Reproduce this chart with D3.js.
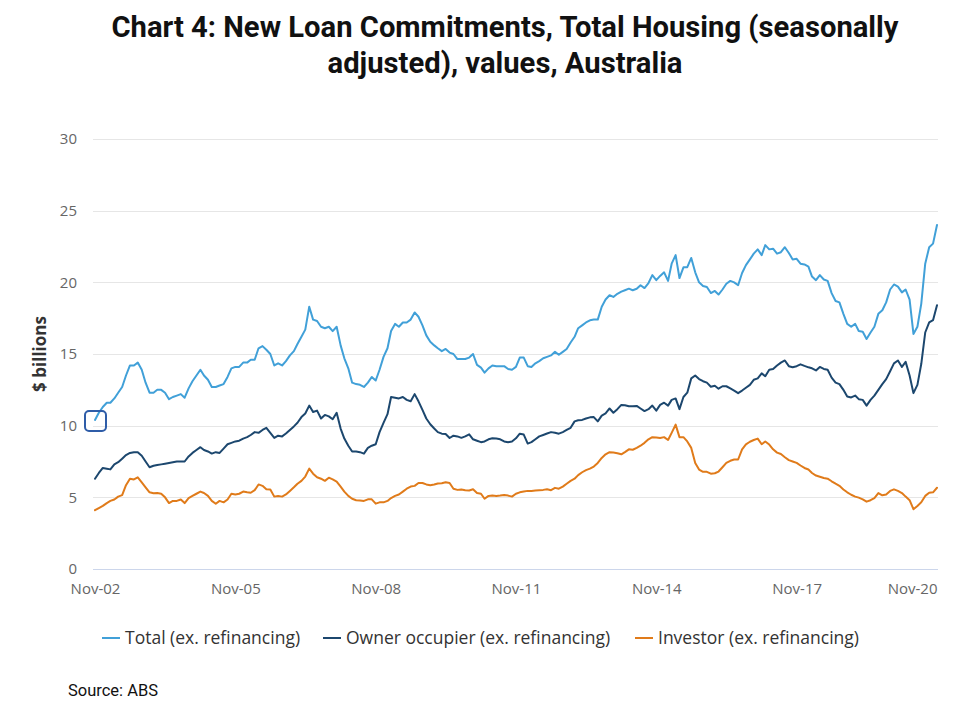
<!DOCTYPE html>
<html>
<head>
<meta charset="utf-8">
<title>New Loan Commitments, Total Housing</title>
<script src="https://cdn.jsdelivr.net/npm/d3@7"></script>
<style>
    body { margin: 0; background: #fff; }
    .grid line { stroke: #e6e6e6; }
    .axis text { font-family: "Open Sans", sans-serif; font-size: 15px; fill: #666; }
    .legend text { font-family: "Open Sans", sans-serif; font-size: 17.5px; fill: #333; }
</style>
</head>
<body>
<script>
    var w = 959;
    var h = 713;
    var margin = { left: 94, right: 21, top: 139, bottom: 144 };

    // monthly, Nov-02 .. Nov-20, $ billions
    var startMonth = new Date(2002, 10, 1);

    var total = [
        10.4, 10.9, 11.3, 11.6, 11.6, 11.9, 12.3, 12.7, 13.5, 14.2,
        14.2, 14.4, 13.9, 13.0, 12.3, 12.3, 12.5, 12.5, 12.3, 11.85,
        12.0, 12.1, 12.2, 11.95, 12.6, 13.1, 13.5, 13.9, 13.5, 13.2,
        12.7, 12.7, 12.8, 12.9, 13.4, 14.0, 14.1, 14.1, 14.4,
        14.4, 14.6, 14.6, 15.4, 15.55, 15.3, 15.0, 14.2, 14.35, 14.2, 14.5,
        14.9, 15.2, 15.7, 16.2, 16.7, 18.3, 17.4, 17.3, 16.9, 16.8,
        16.9, 16.6, 16.9, 15.6, 14.7, 14.0, 13.0, 12.9, 12.85, 12.7,
        13.0, 13.4, 13.15, 13.9, 14.8, 15.4,
        16.6, 17.1, 16.9, 17.2, 17.2, 17.4, 17.9, 17.6, 17.0, 16.3,
        15.85, 15.6, 15.4, 15.2, 15.35, 15.1, 15.0, 14.65, 14.65, 14.65,
        14.75, 15.0, 14.24, 14.05, 13.7, 14.0, 14.2, 14.15, 14.15, 14.15,
        13.95, 13.9, 14.1, 14.75, 14.75, 14.15,
        14.1, 14.35, 14.5, 14.7, 14.8, 14.9, 15.15, 14.95, 15.15, 15.35,
        15.8, 16.2, 16.8, 17.0, 17.2, 17.35, 17.4, 17.4, 18.3, 18.8,
        19.1, 18.98, 19.2, 19.35, 19.45, 19.56, 19.45, 19.55, 19.8, 19.6,
        19.95, 20.5, 20.15, 20.45, 20.7, 20.1,
        21.3, 21.9, 20.3, 21.05, 21.06, 21.7, 20.7, 20.0, 19.75, 19.68,
        19.25, 19.4, 19.15, 19.5, 19.9, 20.1, 20.0, 19.8, 20.65, 21.2,
        21.6, 22.0, 22.3, 21.9, 22.6, 22.3, 22.35, 22.0, 22.1, 22.45,
        22.05, 21.6, 21.64, 21.3, 21.25, 21.1,
        20.4, 20.15, 20.5, 20.2, 20.1, 19.25, 18.7, 18.6, 17.8, 17.1,
        16.9, 17.1, 16.6, 16.55, 16.05, 16.5, 16.9, 17.8, 18.05, 18.6,
        19.5, 19.85, 19.7, 19.3, 19.5, 18.8, 16.4, 16.9, 18.5, 21.3,
        22.45, 22.7, 24.0
    ];

    var ownerOccupier = [
        6.3, 6.7, 7.05, 7.0, 6.95, 7.3, 7.45, 7.7, 7.95, 8.1,
        8.15, 8.15, 7.9, 7.5, 7.1, 7.2, 7.25, 7.3, 7.35, 7.4,
        7.45, 7.5, 7.5, 7.5, 7.85, 8.1, 8.3, 8.5, 8.3, 8.2,
        8.05, 8.15, 8.1, 8.4, 8.7, 8.8, 8.9, 8.95, 9.1,
        9.2, 9.35, 9.55, 9.5, 9.7, 9.85, 9.5, 9.15, 9.3, 9.25, 9.45,
        9.7, 9.95, 10.2, 10.6, 10.85, 11.4, 10.95, 11.05, 10.5, 10.75,
        10.65, 10.45, 10.9, 9.8, 9.1, 8.6, 8.2, 8.2, 8.15, 8.05,
        8.45, 8.6, 8.7, 9.55, 10.2, 10.8,
        12.0, 11.95, 11.9, 12.0, 11.8, 11.7, 12.2, 11.7, 11.1, 10.5,
        10.1, 9.8, 9.55, 9.44, 9.42, 9.14, 9.3, 9.25, 9.15, 9.25,
        9.4, 9.05, 8.95, 8.85, 8.9, 9.05, 9.12, 9.1, 9.05, 8.9,
        8.85, 8.9, 9.12, 9.44, 9.38, 8.75,
        8.85, 9.05, 9.25, 9.35, 9.45, 9.55, 9.5, 9.44, 9.55, 9.7,
        9.85, 10.3, 10.38, 10.4, 10.5, 10.58, 10.6, 10.3, 10.7, 10.85,
        11.2, 10.9, 11.15, 11.45, 11.42, 11.35, 11.35, 11.38, 11.2, 11.02,
        11.15, 11.4, 11.05, 11.45, 11.6, 11.4,
        11.8, 11.9, 11.15, 12.0, 12.3, 13.3, 13.5, 13.25, 13.1, 13.0,
        12.72, 12.78, 12.58, 12.75, 12.75, 12.6, 12.45, 12.27, 12.45, 12.65,
        12.85, 13.2, 13.3, 13.65, 13.45, 13.9, 13.95, 14.2, 14.4, 14.55,
        14.15, 14.08, 14.15, 14.28, 14.17, 14.07,
        14.0, 13.85, 14.1, 13.96, 13.9, 13.35, 13.0, 12.9, 12.5, 12.04,
        11.97, 12.1, 11.85, 11.8, 11.4, 11.8, 12.1, 12.5, 12.9, 13.25,
        13.8, 14.35, 14.55, 14.1, 14.45, 13.5, 12.27, 12.85, 14.3, 16.5,
        17.2, 17.36, 18.4
    ];

    var investor = [
        4.1, 4.25, 4.4, 4.6, 4.75, 4.85, 5.05, 5.15, 5.85, 6.3,
        6.25, 6.4, 6.05, 5.7, 5.35, 5.28, 5.3, 5.25, 5.0, 4.6,
        4.75, 4.75, 4.85, 4.6, 4.95, 5.1, 5.25, 5.4, 5.3, 5.1,
        4.75, 4.55, 4.75, 4.65, 4.85, 5.25, 5.2, 5.25, 5.4,
        5.35, 5.32, 5.5, 5.9, 5.8, 5.56, 5.55, 5.05, 5.1, 5.05, 5.2,
        5.45, 5.7, 5.95, 6.15, 6.45, 7.0, 6.65, 6.4, 6.3, 6.15,
        6.37, 6.25, 6.1, 5.75, 5.4, 5.1, 4.9, 4.8, 4.78, 4.75,
        4.86, 4.86, 4.56, 4.65, 4.65, 4.75,
        4.95, 5.1, 5.2, 5.4, 5.6, 5.75, 5.8, 6.0, 6.0, 5.9,
        5.85, 5.9, 5.97, 5.98, 6.05, 6.0, 5.6, 5.52, 5.55, 5.5,
        5.48, 5.56, 5.3, 5.25, 4.9, 5.1, 5.12, 5.1, 5.12, 5.16,
        5.12, 5.05, 5.25, 5.35, 5.4, 5.45,
        5.45, 5.48, 5.5, 5.52, 5.56, 5.5, 5.66, 5.6, 5.75, 5.95,
        6.15, 6.3, 6.55, 6.75, 6.9, 7.0, 7.15, 7.4, 7.75, 8.0,
        8.15, 8.12, 8.08, 8.0, 8.15, 8.35, 8.32, 8.45, 8.6, 8.8,
        9.05, 9.2, 9.18, 9.14, 9.2, 9.0,
        9.5, 10.07, 9.2, 9.2, 8.9, 8.45, 7.4, 6.94, 6.78, 6.78,
        6.65, 6.68, 6.8, 7.1, 7.4, 7.55, 7.64, 7.64, 8.35, 8.7,
        8.88, 9.0, 9.1, 8.7, 8.9, 8.68, 8.35, 8.12, 8.02, 7.8,
        7.6, 7.5, 7.4, 7.22, 7.05, 6.94,
        6.7, 6.52, 6.44, 6.35, 6.3, 6.12, 5.95, 5.8, 5.55, 5.35,
        5.18, 5.05, 4.98, 4.86, 4.7, 4.8, 4.95, 5.3, 5.14, 5.2,
        5.45, 5.56, 5.45, 5.3, 5.05, 4.8, 4.17, 4.4, 4.65, 5.1,
        5.32, 5.35, 5.67
    ];

    var seriesNames = ["Total (ex. refinancing)", "Owner occupier (ex. refinancing)", "Investor (ex. refinancing)"];
    var seriesColors = ["#41a0d8", "#1c476e", "#e07b1a"];
    var yTicks = [0, 5, 10, 15, 20, 25, 30];
    var xTickYears = [2002, 2005, 2008, 2011, 2014, 2017, 2020];

    var months = total.map(function(d, i) {
        return d3.timeMonth.offset(startMonth, i);
    });
    var series = [total, ownerOccupier, investor];

    var xScale = d3.scaleTime()
        .domain([months[0], months[months.length - 1]])
        .range([margin.left + 1, w - margin.right - 1]);

    var yScale = d3.scaleLinear()
        .domain([0, 30])
        .range([h - margin.bottom, margin.top]);

    var svg = d3.select("body")
        .append("svg")
        .attr("width", w)
        .attr("height", h);

    // title
    var title = svg.append("text")
        .attr("font-family", "Roboto, sans-serif")
        .attr("font-weight", "bold")
        .attr("font-size", "29px")
        .attr("fill", "#111")
        .attr("text-anchor", "middle");
    title.append("tspan")
        .attr("x", 505).attr("y", 37)
        .attr("textLength", 787).attr("lengthAdjust", "spacingAndGlyphs")
        .text("Chart 4: New Loan Commitments, Total Housing (seasonally");
    title.append("tspan")
        .attr("x", 505).attr("y", 73)
        .attr("textLength", 355).attr("lengthAdjust", "spacingAndGlyphs")
        .text("adjusted), values, Australia");

    // gridlines
    svg.append("g")
        .attr("class", "grid")
        .selectAll("line")
        .data(yTicks.slice(1))
        .enter()
        .append("line")
        .attr("x1", margin.left - 1)
        .attr("x2", w - margin.right)
        .attr("y1", function(d) { return Math.round(yScale(d)) + 0.5; })
        .attr("y2", function(d) { return Math.round(yScale(d)) + 0.5; });

    svg.append("line")
        .attr("x1", margin.left - 1)
        .attr("x2", w - margin.right)
        .attr("y1", Math.round(yScale(0)) + 0.5)
        .attr("y2", Math.round(yScale(0)) + 0.5)
        .attr("stroke", "#ccd6eb");

    // y axis labels
    var yAxis = d3.axisLeft(yScale)
        .tickValues(yTicks)
        .tickSize(0)
        .tickPadding(0);
    var gy = svg.append("g")
        .attr("class", "axis")
        .attr("transform", "translate(77,0)")
        .call(yAxis);
    gy.select(".domain").remove();

    svg.append("text")
        .attr("transform", "translate(46," + yScale(15) + ") rotate(-90)")
        .attr("text-anchor", "middle")
        .attr("font-family", "Open Sans, sans-serif")
        .attr("font-weight", "bold")
        .attr("font-size", "17px")
        .attr("fill", "#333")
        .text("$ billions");

    // x axis labels
    var xAxis = d3.axisBottom(xScale)
        .tickValues(xTickYears.map(function(y) { return new Date(y, 10, 1); }))
        .tickFormat(d3.timeFormat("%b-%y"))
        .tickSize(0)
        .tickPadding(14);
    var gx = svg.append("g")
        .attr("class", "axis")
        .attr("transform", "translate(0," + yScale(0) + ")")
        .call(xAxis);
    gx.select(".domain").remove();
    gx.selectAll(".tick:last-of-type text").attr("text-anchor", "end");

    // lines
    var line = d3.line()
        .x(function(d, i) { return xScale(months[i]); })
        .y(function(d) { return yScale(d); });

    svg.selectAll(".series")
        .data(series)
        .enter()
        .append("path")
        .attr("class", "series")
        .attr("d", line)
        .attr("fill", "none")
        .attr("stroke", function(d, i) { return seriesColors[i]; })
        .attr("stroke-width", 2)
        .attr("stroke-linejoin", "round")
        .attr("stroke-linecap", "round");

    // focus box on the first point of the total series
    svg.append("rect")
        .attr("x", xScale(months[0]) - 10)
        .attr("y", yScale(total[0]) - 9)
        .attr("width", 21)
        .attr("height", 20)
        .attr("rx", 4)
        .attr("fill", "none")
        .attr("stroke", "#2f5da8")
        .attr("stroke-width", 2);

    // legend
    var legendX = [102, 323, 635];
    var legend = svg.append("g")
        .attr("class", "legend")
        .selectAll("g")
        .data(seriesNames)
        .enter()
        .append("g")
        .attr("transform", function(d, i) { return "translate(" + legendX[i] + ",638)"; });
    legend.append("line")
        .attr("x1", 0).attr("x2", 18)
        .attr("stroke", function(d, i) { return seriesColors[i]; })
        .attr("stroke-width", 2);
    legend.append("text")
        .attr("x", 23)
        .attr("dy", "0.35em")
        .text(function(d) { return d; });

    svg.append("text")
        .attr("x", 68)
        .attr("y", 696)
        .attr("font-family", "Roboto, sans-serif")
        .attr("font-size", "16px")
        .attr("textLength", 90)
        .attr("lengthAdjust", "spacingAndGlyphs")
        .attr("fill", "#111")
        .text("Source: ABS");
</script>
</body>
</html>
